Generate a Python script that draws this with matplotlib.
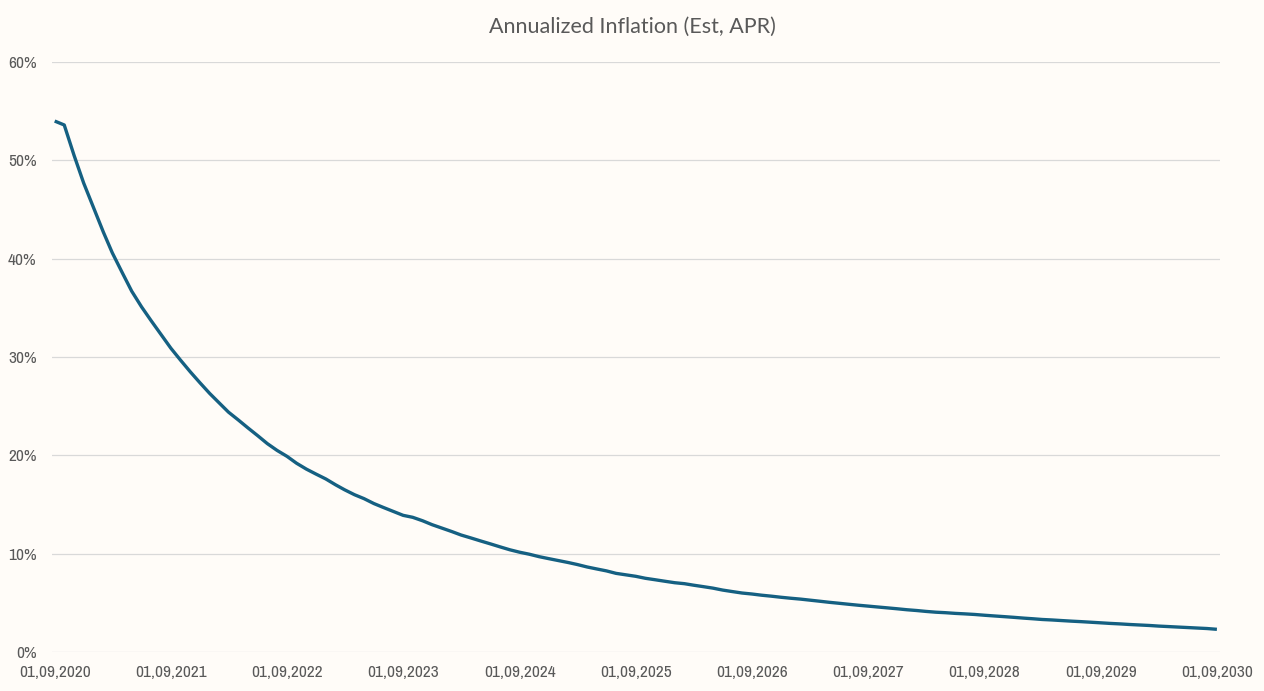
import numpy as np
import pandas as pd
import matplotlib
matplotlib.use('Agg')
import matplotlib.pyplot as plt
import matplotlib.dates as mdates
from matplotlib.ticker import FuncFormatter

# monthly points, 01/09/2020 .. 01/09/2030
dates = pd.date_range('2020-09-01', '2030-09-01', freq='MS')

# annualized inflation in %
inflation = [
    54.0, 53.6, 50.5, 47.7, 45.2, 42.7, 40.6, 38.6, 36.7, 35.1,
    33.7, 32.3, 30.9, 29.7, 28.5, 27.4, 26.3, 25.3, 24.4, 23.6,
    22.8, 22.0, 21.2, 20.5, 19.9, 19.2, 18.6, 18.1, 17.6, 17.0,
    16.5, 16.0, 15.6, 15.1, 14.7, 14.3, 13.9, 13.7, 13.35, 12.95,
    12.6, 12.25, 11.9, 11.6, 11.3, 11.0, 10.7, 10.4, 10.15, 9.95,
    9.7, 9.5, 9.3, 9.1, 8.9, 8.65, 8.45, 8.25, 8.0, 7.85,
    7.7, 7.5, 7.35, 7.2, 7.05, 6.95, 6.8, 6.65, 6.5, 6.3,
    6.15, 6.0, 5.9, 5.78, 5.68, 5.57, 5.47, 5.38, 5.28, 5.17,
    5.06, 4.96, 4.86, 4.76, 4.67, 4.58, 4.49, 4.4, 4.3, 4.22,
    4.13, 4.05, 4.0, 3.93, 3.88, 3.82, 3.74, 3.67, 3.6, 3.53,
    3.45, 3.38, 3.31, 3.26, 3.2, 3.14, 3.09, 3.03, 2.97, 2.91,
    2.86, 2.8, 2.75, 2.7, 2.64, 2.59, 2.54, 2.49, 2.44, 2.39,
    2.31,
]
inflation = np.array(inflation) / 100

y_ticks = [0, 0.1, 0.2, 0.3, 0.4, 0.5, 0.6]
x_ticks = pd.date_range('2020-09-01', '2030-09-01', freq='12MS')

bg = '#fffcf8'
text_col = '#595959'
grid_col = '#d9d9d9'
line_col = '#156082'
narrow = ['Archivo Narrow', 'Liberation Sans Narrow', 'DejaVu Sans']

fig = plt.figure(figsize=(12.64, 6.91), dpi=100, facecolor=bg)
ax = fig.add_axes([0.041, 0.0564, 0.924, 0.8538], facecolor=bg)

ax.plot(dates, inflation, color=line_col, linewidth=2.4, solid_capstyle='butt')

ax.set_ylim(0, 0.6)
ax.set_yticks(y_ticks)
ax.yaxis.set_major_formatter(FuncFormatter(lambda v, p: f'{v*100:.0f}%'))
ax.set_xlim(dates[0] - pd.Timedelta(days=9), dates[-1] + pd.Timedelta(days=9))
ax.set_xticks(x_ticks)
ax.xaxis.set_major_formatter(mdates.DateFormatter('%d,%m,%Y'))

ax.grid(axis='y', color=grid_col, linewidth=0.9)
ax.set_axisbelow(True)
for s in ax.spines.values():
    s.set_visible(False)
ax.tick_params(length=0, colors=text_col, labelsize=12.5)
ax.tick_params(axis='y', pad=11)
ax.tick_params(axis='x', pad=9)
for lab in ax.get_xticklabels() + ax.get_yticklabels():
    lab.set_family(narrow)

fig.text(0.5, 0.961, 'Annualized Inflation (Est, APR)', ha='center', va='center',
         fontsize=15.5, color=text_col, family=['Lato', 'DejaVu Sans'])

fig.savefig('out.png', dpi=100, facecolor=bg)
